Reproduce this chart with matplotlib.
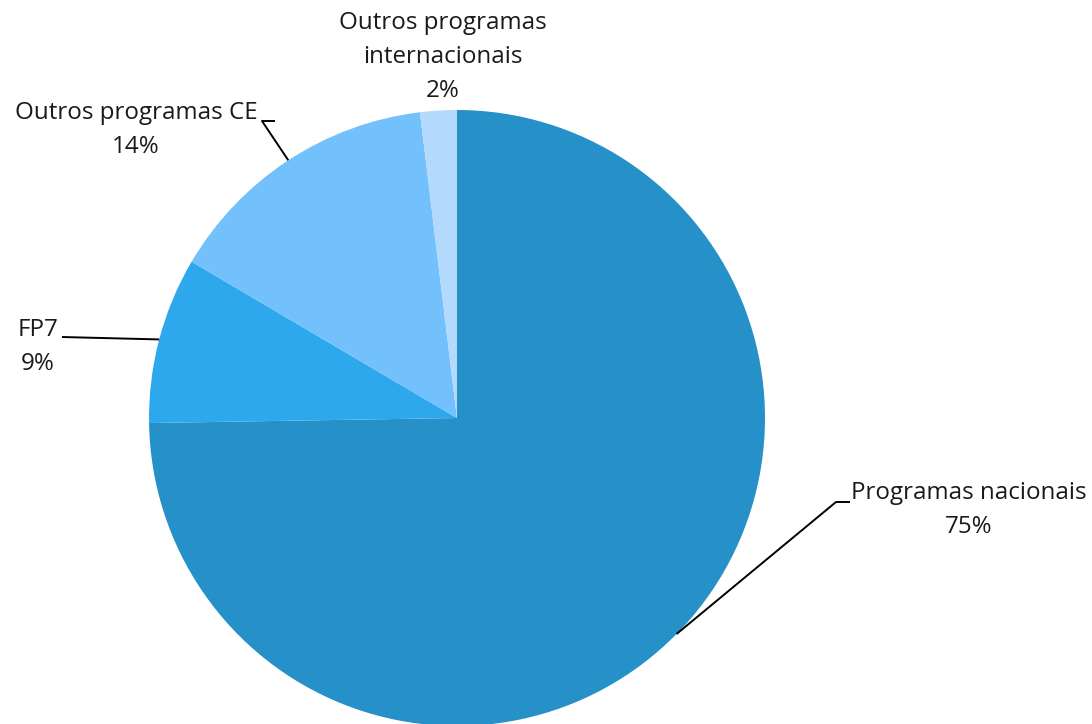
import numpy as np
import matplotlib
matplotlib.use("Agg")
import matplotlib.pyplot as plt

# Funding sources, clockwise from 12 o'clock
labels = ["Programas nacionais", "FP7", "Outros programas CE",
          "Outros programas\ninternacionais"]
shares = [74.74, 8.73, 14.61, 1.92]   # slice sizes as drawn
pct_text = [75, 9, 14, 2]             # percentages printed on the chart
colors = ["#2690c8", "#2ea8ec", "#72c1fc", "#b3d9fc"]

plt.rcParams["font.family"] = ["Open Sans", "DejaVu Sans"]

W, H = 1092, 724
fig = plt.figure(figsize=(W / 100, H / 100), dpi=100)
ax = fig.add_axes([0, 0, 1, 1])

cx, cy, r = 457, H - 418, 308
wedges, _ = ax.pie(shares, colors=colors, startangle=90, counterclock=False,
                   radius=r, center=(cx, cy),
                   wedgeprops=dict(linewidth=0))
ax.set_xlim(0, W)
ax.set_ylim(0, H)
ax.set_aspect("equal")
ax.axis("off")

# label centre and elbow points of leader line (pixels from top)
text_pos = [(969, 510), (38, 347), (136, 130), (443, 57)]
elbows = [[(850, 502), (836, 502)], [(62, 337)], [(275, 121), (262, 121)], None]

for w, lab, pct, (tx, ty), elb in zip(wedges, labels, pct_text, text_pos, elbows):
    mid = np.deg2rad((w.theta1 + w.theta2) / 2)
    ex, ey = cx + r * np.cos(mid), cy + r * np.sin(mid)
    ax.text(tx, H - ty, f"{lab}\n{pct}%", ha="center", va="center",
            fontsize=17.4, color="#1a1a1a", linespacing=1.55)
    if elb:
        pts = [(ex, ey)] + [(x, H - y) for x, y in elb[::-1]]
        xs, ys = zip(*pts)
        ax.plot(xs, ys, color="black", lw=1.4, solid_capstyle="butt")

fig.savefig("out.png", dpi=100)
